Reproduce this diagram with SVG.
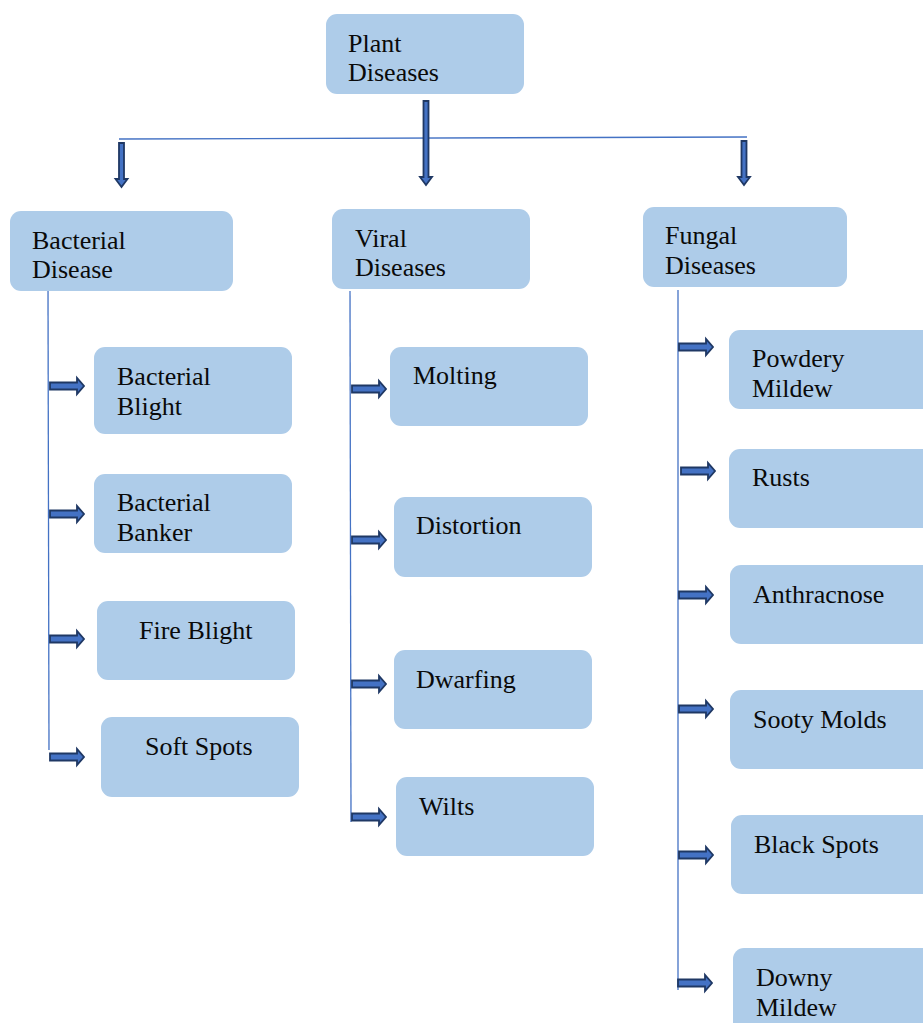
<svg xmlns="http://www.w3.org/2000/svg" width="923" height="1023" viewBox="0 0 923 1023">
<style>
.box{fill:#aecce9;}
.t{font-family:'Liberation Serif','DejaVu Serif',serif;font-size:26px;fill:#0a0a0a;}
.ln{stroke:#4472c4;stroke-width:1.3;fill:none;}
.ar{fill:#4472c4;stroke:#1f3864;stroke-width:1.8;stroke-linejoin:miter;}
</style>
<defs>
<path id="ra" class="ar" d="M0,-3.5 L27,-3.5 L27,-8 L34,0 L27,8 L27,3.5 L0,3.5 Z"/>
</defs>
<rect width="923" height="1023" fill="#fff"/>
<g id="connectors">
<line class="ln" x1="119" y1="139" x2="747" y2="137"/>
<line class="ln" x1="48" y1="287" x2="49" y2="750"/>
<line class="ln" x1="350" y1="291" x2="351" y2="822"/>
<line class="ln" x1="678" y1="290" x2="678" y2="990"/>
<path class="ar" d="M423.5,101 L428.5,101 L428.5,177 L432,177 L426,185 L420,177 L423.5,177 Z"/>
<path class="ar" d="M119,143 L124,143 L124,179 L127.5,179 L121.5,187 L115.5,179 L119,179 Z"/>
<path class="ar" d="M741.5,141 L746.5,141 L746.5,177 L750,177 L744,185 L738,177 L741.5,177 Z"/>
<use href="#ra" x="50" y="386"/>
<use href="#ra" x="50" y="514"/>
<use href="#ra" x="50" y="639"/>
<use href="#ra" x="50" y="757"/>
<use href="#ra" x="352" y="389"/>
<use href="#ra" x="352" y="540"/>
<use href="#ra" x="352" y="684"/>
<use href="#ra" x="352" y="817"/>
<use href="#ra" x="679" y="347"/>
<use href="#ra" x="681" y="471"/>
<use href="#ra" x="679" y="595"/>
<use href="#ra" x="679" y="709"/>
<use href="#ra" x="679" y="855"/>
<use href="#ra" x="678" y="983"/>
</g>
<g id="plant"><rect class="box" x="326" y="14" width="198" height="80" rx="11"/><text class="t" x="348" y="52">Plant</text><text class="t" x="348" y="81">Diseases</text></g>
<g id="bacterial"><rect class="box" x="10" y="211" width="223" height="80" rx="11"/><text class="t" x="32" y="249">Bacterial</text><text class="t" x="32" y="278">Disease</text></g>
<g id="viral"><rect class="box" x="332" y="209" width="198" height="80" rx="11"/><text class="t" x="355" y="247">Viral</text><text class="t" x="355" y="276">Diseases</text></g>
<g id="fungal"><rect class="box" x="643" y="207" width="204" height="80" rx="11"/><text class="t" x="665" y="244">Fungal</text><text class="t" x="665" y="274">Diseases</text></g>
<g id="bblight"><rect class="box" x="94" y="347" width="198" height="87" rx="11"/><text class="t" x="117" y="385">Bacterial</text><text class="t" x="117" y="415">Blight</text></g>
<g id="bbanker"><rect class="box" x="94" y="474" width="198" height="79" rx="11"/><text class="t" x="117" y="511">Bacterial</text><text class="t" x="117" y="541">Banker</text></g>
<g id="fireblight"><rect class="box" x="97" y="601" width="198" height="79" rx="11"/><text class="t" x="139" y="639">Fire Blight</text></g>
<g id="softspots"><rect class="box" x="101" y="717" width="198" height="80" rx="11"/><text class="t" x="145" y="755">Soft Spots</text></g>
<g id="molting"><rect class="box" x="390" y="347" width="198" height="79" rx="11"/><text class="t" x="413" y="384">Molting</text></g>
<g id="distortion"><rect class="box" x="394" y="497" width="198" height="80" rx="11"/><text class="t" x="416" y="534">Distortion</text></g>
<g id="dwarfing"><rect class="box" x="394" y="650" width="198" height="79" rx="11"/><text class="t" x="416" y="688">Dwarfing</text></g>
<g id="wilts"><rect class="box" x="396" y="777" width="198" height="79" rx="11"/><text class="t" x="419" y="815">Wilts</text></g>
<g id="powdery"><rect class="box" x="729" y="330" width="204" height="79" rx="11"/><text class="t" x="752" y="367">Powdery</text><text class="t" x="752" y="397">Mildew</text></g>
<g id="rusts"><rect class="box" x="729" y="449" width="204" height="79" rx="11"/><text class="t" x="752" y="486">Rusts</text></g>
<g id="anthracnose"><rect class="box" x="730" y="565" width="204" height="79" rx="11"/><text class="t" x="753" y="603">Anthracnose</text></g>
<g id="sooty"><rect class="box" x="730" y="690" width="204" height="79" rx="11"/><text class="t" x="753" y="728">Sooty Molds</text></g>
<g id="blackspots"><rect class="box" x="731" y="815" width="204" height="79" rx="11"/><text class="t" x="754" y="853">Black Spots</text></g>
<g id="downy"><rect class="box" x="733" y="948" width="204" height="85" rx="11"/><text class="t" x="756" y="986">Downy</text><text class="t" x="756" y="1016">Mildew</text></g>
</svg>
